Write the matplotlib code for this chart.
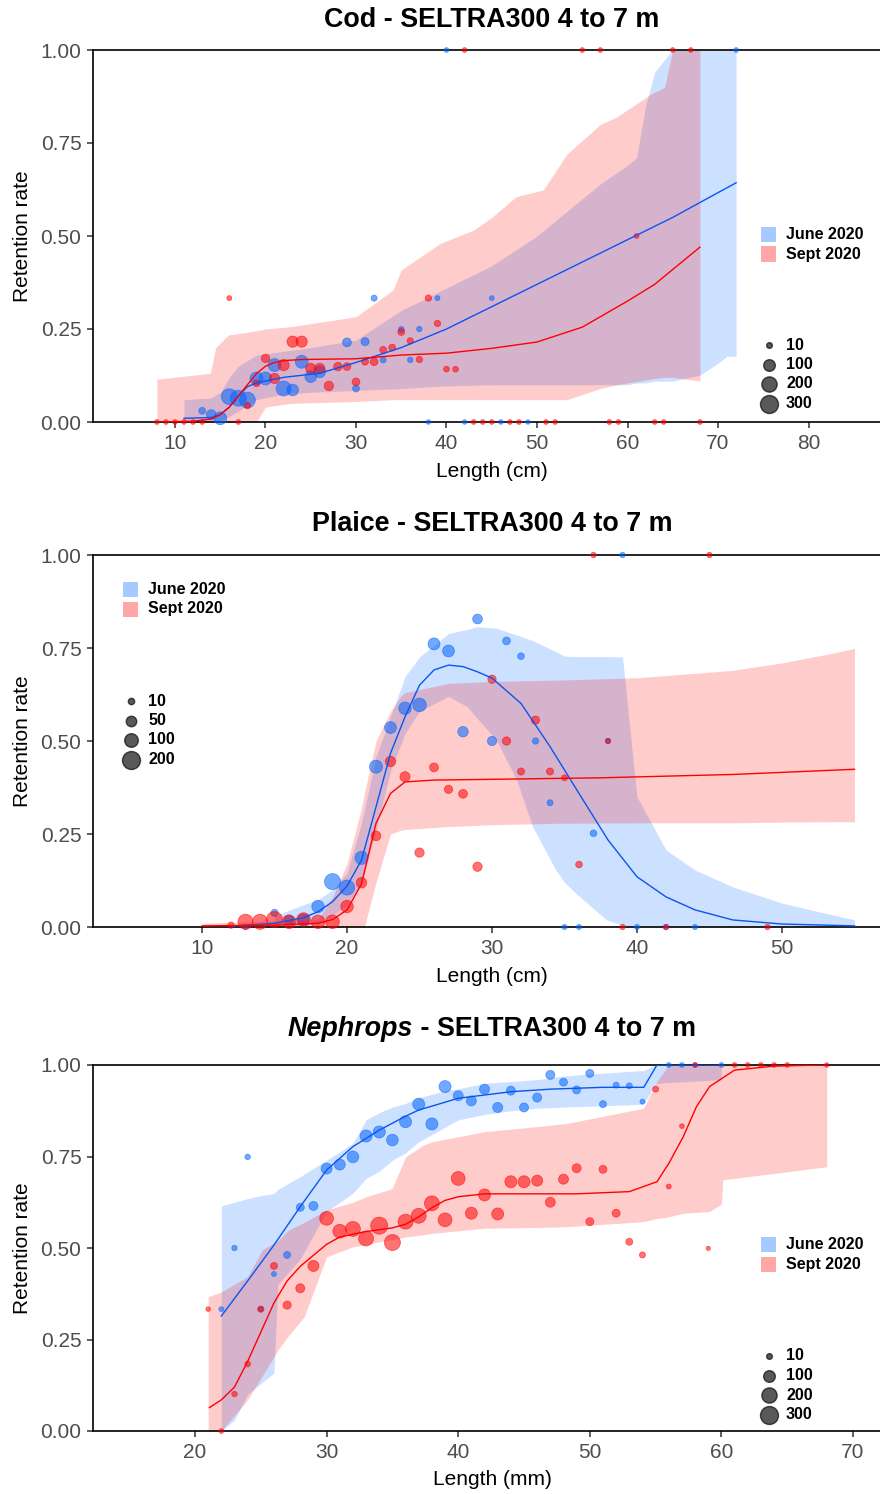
import numpy as np
import matplotlib
matplotlib.use("Agg")
import matplotlib.pyplot as plt
from matplotlib.patches import Rectangle

plt.rcParams['font.family'] = ['Liberation Sans', 'DejaVu Sans']

# ---------------- Cod (cm) ----------------
cod_jun_len = [13,14,15,16,17,18,19,20,21,22,23,24,25,26,29,30,31,32,33,35,36,37,39,45,40,72,38,42,46,49]
cod_jun_rate = [0.03,0.02,0.01,0.068,0.064,0.059,0.117,0.117,0.153,0.09,0.086,0.162,0.122,0.135,0.214,0.09,0.216,0.333,0.167,0.249,0.167,0.25,0.333,0.333,1,1,0,0,0,0]
cod_jun_n = [20,60,130,220,220,220,130,130,130,190,100,130,100,100,45,20,35,12,12,10,8,8,5,5,4,4,3,3,3,3]

cod_sep_len = [8,9,10,11,12,13,16,17,18,19,20,21,22,23,24,25,26,27,28,29,30,31,32,33,34,35,36,37,38,39,40,41,61,42,55,57,65,67,43,44,45,47,48,51,52,58,59,63,64,68]
cod_sep_rate = [0,0,0,0,0,0,0.333,0,0.044,0.104,0.171,0.117,0.153,0.216,0.216,0.144,0.144,0.097,0.149,0.149,0.108,0.162,0.162,0.194,0.2,0.242,0.218,0.168,0.333,0.265,0.142,0.142,0.5,1,1,1,1,1,0,0,0,0,0,0,0,0,0,0,0,0]
cod_sep_n = [4,4,4,4,4,4,5,4,15,20,40,70,90,90,90,70,70,55,40,30,30,20,30,20,20,20,15,15,15,15,10,10,5,4,4,4,4,4,4,4,4,4,4,4,4,5,4,4,4,4]

cod_jun_fit_x = [11,14,15,16,17,18,19,20,22,26,30,35,40,45,50,55,60,65,68,72]
cod_jun_fit_y = [0.01,0.012,0.02,0.04,0.07,0.095,0.105,0.11,0.12,0.131,0.16,0.20,0.25,0.31,0.37,0.43,0.49,0.55,0.59,0.643]
cod_sep_fit_x = [8,12,14,15,16,17,18,19,20,21,22,24,30,35,40,45,50,55,60,63,66,68]
cod_sep_fit_y = [0.0,0.002,0.008,0.02,0.04,0.07,0.10,0.13,0.15,0.16,0.165,0.168,0.17,0.18,0.185,0.198,0.215,0.255,0.325,0.37,0.43,0.47]

cod_jun_ci_x = [11,14,15,16,17,19,22,25,30,35,40,45,50,57,60,61,62,63,64.3,65,68,70,71,72]
cod_jun_ci_lo = [0,0,0.005,0.015,0.03,0.06,0.075,0.08,0.085,0.09,0.097,0.10,0.10,0.10,0.10,0.105,0.105,0.11,0.11,0.11,0.126,0.158,0.177,0.177]
cod_jun_ci_hi = [0.06,0.065,0.08,0.12,0.15,0.18,0.19,0.20,0.22,0.30,0.36,0.42,0.50,0.64,0.69,0.71,0.85,0.94,0.98,1.0,1.0,1.0,1.0,1.0]
cod_sep_ci_x = [8,13.9,14.5,15.9,19,20,22.7,30,34.1,35,39.3,43,45,47.7,50.7,53.3,57,58.8,62.5,64.1,65,68]
cod_sep_ci_lo = [0,0,0,0,0,0.04,0.05,0.055,0.06,0.06,0.06,0.06,0.06,0.06,0.06,0.06,0.09,0.10,0.115,0.12,0.12,0.11]
cod_sep_ci_hi = [0.115,0.131,0.2,0.234,0.245,0.25,0.256,0.283,0.355,0.409,0.48,0.516,0.55,0.606,0.624,0.72,0.80,0.82,0.88,0.90,1.0,1.0]

# ---------------- Plaice (cm) ----------------
pl_jun_len = [13,15,16,17,18,19,20,21,22,23,24,25,26,27,28,29,30,31,32,33,34,37,38,39,35,36,40,42,44]
pl_jun_rate = [0,0.038,0.019,0.02,0.055,0.122,0.106,0.186,0.431,0.536,0.588,0.597,0.761,0.742,0.525,0.828,0.5,0.769,0.728,0.5,0.334,0.252,0.5,1,0,0,0,0,0]
pl_jun_n = [4,15,40,60,80,150,130,90,90,70,80,100,70,70,50,40,35,20,12,10,8,12,4,5,4,4,4,4,4]

pl_sep_len = [12,13,14,15,16,17,18,19,20,21,22,23,24,25,26,27,28,29,30,31,32,33,34,35,36,37,38,45,39,42,49]
pl_sep_rate = [0.005,0.014,0.014,0.02,0.014,0.02,0.014,0.014,0.055,0.119,0.245,0.445,0.404,0.2,0.429,0.37,0.358,0.162,0.666,0.5,0.418,0.556,0.418,0.401,0.168,1,0.5,1,0,0,0]
pl_sep_n = [10,130,130,150,100,100,100,100,80,50,40,50,45,35,30,25,30,35,25,25,15,25,15,8,12,5,5,5,5,5,5]

pl_jun_fit_x = [12,15,17,18,19,20,21,22,23,24,25,26,27,28,29,30,32,34,36,38,40,42,44,46.6,50,55]
pl_jun_fit_y = [0.002,0.01,0.025,0.041,0.068,0.11,0.18,0.323,0.467,0.565,0.65,0.691,0.704,0.70,0.686,0.669,0.601,0.485,0.359,0.234,0.135,0.081,0.046,0.019,0.008,0.003]
pl_sep_fit_x = [10,15,18,19,20,21,22,23,24,26,30,37.4,46.6,55]
pl_sep_fit_y = [0.003,0.005,0.01,0.02,0.046,0.116,0.279,0.359,0.39,0.395,0.397,0.401,0.41,0.424]

pl_jun_ci_x = [15,17,18,19,20,21,22,23,24,25,27,28.3,29,30.3,31.7,32.8,34.4,35,35.8,37.9,39,39.7,40,42,44,46.6,50,55]
pl_jun_ci_hi = [0.03,0.06,0.073,0.10,0.144,0.28,0.458,0.565,0.673,0.726,0.789,0.80,0.807,0.803,0.785,0.77,0.74,0.728,0.727,0.727,0.726,0.46,0.35,0.207,0.153,0.108,0.064,0.019]
pl_jun_ci_lo = [0,0.005,0.01,0.03,0.06,0.12,0.26,0.42,0.52,0.58,0.62,0.592,0.56,0.503,0.395,0.27,0.153,0.12,0.09,0.019,0.005,0,0,0,0,0,0,0]
pl_sep_ci_x = [10,18,19,20,21,21.2,22,23,23.7,24,27,30,34.8,40,44,46.6,50,53.5,55]
pl_sep_ci_hi = [0.01,0.02,0.08,0.17,0.32,0.36,0.50,0.58,0.62,0.63,0.655,0.66,0.664,0.67,0.682,0.69,0.71,0.736,0.749]
pl_sep_ci_lo = [0,0,0,0,0,0,0.12,0.25,0.26,0.262,0.27,0.275,0.279,0.28,0.28,0.28,0.282,0.283,0.283]

# ---------------- Nephrops (mm) ----------------
nep_jun_len = [22,23,24,25,26,27,28,29,30,31,32,33,34,35,36,37,38,39,40,41,42,43,44,45,46,47,48,49,50,51,52,53,54,56,57,58,60]
nep_jun_rate = [0.333,0.5,0.749,0.333,0.429,0.481,0.611,0.615,0.717,0.728,0.749,0.806,0.817,0.795,0.845,0.893,0.839,0.941,0.916,0.902,0.934,0.884,0.93,0.884,0.911,0.973,0.953,0.932,0.977,0.893,0.945,0.943,0.9,1,1,1,1]
nep_jun_n = [5,8,8,5,5,21,33,48,85,85,100,110,110,100,108,108,108,108,65,65,65,65,48,48,48,48,33,33,33,21,12,12,5,4,4,4,4]

nep_sep_len = [21,22,23,24,25,26,27,28,29,30,31,32,33,34,35,36,37,38,39,40,41,42,43,44,45,46,47,48,49,50,51,52,53,54,55,56,57,59,58,61,62,63,64,65,68]
nep_sep_rate = [0.333,0,0.101,0.183,0.333,0.451,0.344,0.39,0.451,0.581,0.546,0.552,0.526,0.561,0.515,0.572,0.588,0.622,0.577,0.69,0.595,0.645,0.593,0.681,0.681,0.684,0.625,0.688,0.718,0.572,0.715,0.595,0.517,0.481,0.934,0.668,0.833,0.499,1,1,1,1,1,1,1]
nep_sep_n = [3,4,8,10,15,21,35,48,85,155,155,190,190,265,225,190,190,190,155,155,108,108,108,108,108,85,65,65,48,33,33,33,21,12,12,5,4,2,4,4,4,4,4,4,3]

nep_jun_fit_x = [22,24,26,28,30,32,34,36,37,40,42,44,47,51,54.1,55.1,60]
nep_jun_fit_y = [0.314,0.41,0.508,0.613,0.713,0.777,0.822,0.86,0.877,0.909,0.918,0.927,0.934,0.939,0.939,1.0,1.0]
nep_sep_fit_x = [21.1,22,23,24,25,26,27,28,29,30,31,33,35,36,37,38,39,40,42,49,53,55.1,56,57.1,58.1,59.1,61,64,68]
nep_sep_fit_y = [0.064,0.085,0.12,0.19,0.27,0.35,0.41,0.45,0.48,0.51,0.53,0.545,0.555,0.565,0.585,0.61,0.63,0.64,0.648,0.648,0.654,0.681,0.731,0.804,0.886,0.941,0.986,0.997,1.0]

nep_jun_ci_x = [22,23,24,25,26,26.3,28,30,32,33,34,35,36,37,39,40,42,44,46,48,52,54.1,55,60]
nep_jun_ci_hi = [0.615,0.625,0.635,0.643,0.649,0.66,0.695,0.74,0.786,0.85,0.87,0.885,0.895,0.91,0.93,0.935,0.95,0.955,0.96,0.97,0.98,0.985,1.0,1.0]
nep_jun_ci_lo = [0.0,0.03,0.10,0.13,0.158,0.40,0.47,0.60,0.65,0.69,0.71,0.74,0.76,0.79,0.83,0.85,0.865,0.875,0.882,0.885,0.89,0.893,0.95,0.96]
nep_sep_ci_x = [21,22,24,25.1,26.3,27.1,28.3,30,32,33,34.8,35,36,37.3,38,42,45.8,48.2,54.1,55,56,57.1,59.1,60,60.1,68]
nep_sep_ci_hi = [0.367,0.38,0.422,0.495,0.52,0.549,0.57,0.604,0.625,0.64,0.66,0.664,0.749,0.78,0.79,0.818,0.831,0.84,0.882,0.95,1,1,1,1,1,1]
nep_sep_ci_lo = [0,0,0.085,0.15,0.221,0.26,0.312,0.476,0.503,0.51,0.522,0.523,0.53,0.536,0.54,0.554,0.556,0.558,0.572,0.58,0.585,0.595,0.60,0.62,0.686,0.722]

cod_size_keys = [10, 100, 200, 300]
pl_size_keys = [10, 50, 100, 200]
nep_size_keys = [10, 100, 200, 300]

BLUE = "#0064ff"
RED = "#ff0000"
BLUE_LINE = "#0a55f0"
KEY_B = "#a6c9ff"
KEY_R = "#ffa6a6"

W, H = 880, 1494
fig = plt.figure(figsize=(W / 100, H / 100), dpi=100)


def fx(px):
    return px / W


def fy(py):
    return 1 - py / H


def dot(n, nmax):
    # marker diameter in px, area-ish scaling like ggplot's scale_size
    d = 3 + 15 * np.sqrt(np.asarray(n, dtype=float) / nmax)
    return (d * 0.72) ** 2


def panel(top, bot, xlim, xticks, xlabel, jun, sep, nmax):
    ax = fig.add_axes([fx(93), fy(bot), 1 - fx(93), (bot - top) / H])
    (jx, jy, jn, jfx, jfy, jcx, jlo, jhi) = jun
    (sx, sy, sn, sfx, sfy, scx, slo, shi) = sep
    ax.fill_between(jcx, jlo, jhi, color=BLUE, alpha=0.2, lw=0)
    ax.fill_between(scx, slo, shi, color=RED, alpha=0.2, lw=0)
    ax.scatter(jx, jy, s=dot(jn, nmax), color=BLUE, alpha=0.55, lw=0.6, clip_on=False, zorder=3)
    ax.scatter(sx, sy, s=dot(sn, nmax), color=RED, alpha=0.55, lw=0.6, clip_on=False, zorder=3)
    ax.plot(jfx, jfy, color=BLUE_LINE, lw=1.0, zorder=4)
    ax.plot(sfx, sfy, color=RED, lw=1.0, zorder=4)
    ax.set_xlim(*xlim)
    ax.set_ylim(0, 1)
    ax.set_xticks(xticks)
    ax.set_yticks([0, 0.25, 0.5, 0.75, 1.0])
    ax.set_yticklabels(["0.00", "0.25", "0.50", "0.75", "1.00"])
    ax.spines['right'].set_visible(False)
    for s in ['left', 'bottom', 'top']:
        ax.spines[s].set_linewidth(1.2)
        ax.spines[s].set_color('black')
    ax.tick_params(length=4.3, width=1.1, color='#333333', labelcolor='#4d4d4d',
                   labelsize=15, pad=4)
    ax.set_xlabel(xlabel, fontsize=15)
    ax.set_ylabel("Retention rate", fontsize=15)
    ax.xaxis.set_label_coords(0.507, -0.107)
    ax.yaxis.set_label_coords(-0.078, 0.5)
    return ax


def legends(kx, ky, cy, labels, nmax):
    for i, (c, lab) in enumerate([(KEY_B, "June 2020"), (KEY_R, "Sept 2020")]):
        y0 = ky + 19.5 * i
        fig.add_artist(Rectangle((fx(kx), fy(y0 + 15)), 15 / W, 15 / H,
                                 transform=fig.transFigure, color=c, lw=0))
        fig.text(fx(kx + 25), fy(y0 + 7.5), lab, fontsize=11.5, fontweight='bold',
                 va='center', ha='left')
    for i, n in enumerate(labels):
        yy = cy + 19.5 * i
        fig.add_artist(plt.Line2D([fx(kx + 7.5)], [fy(yy)], marker='o', ls='',
                                  markersize=(3 + 15 * np.sqrt(n / nmax)) * 0.72,
                                  color='black', alpha=0.65, transform=fig.transFigure))
        fig.text(fx(kx + 25), fy(yy), str(n), fontsize=11.5, fontweight='bold',
                 va='center', ha='left')


ax1 = panel(50, 422, (0.94, 87.9), [10, 20, 30, 40, 50, 60, 70, 80], "Length (cm)",
            (cod_jun_len, cod_jun_rate, cod_jun_n, cod_jun_fit_x, cod_jun_fit_y,
             cod_jun_ci_x, cod_jun_ci_lo, cod_jun_ci_hi),
            (cod_sep_len, cod_sep_rate, cod_sep_n, cod_sep_fit_x, cod_sep_fit_y,
             cod_sep_ci_x, cod_sep_ci_lo, cod_sep_ci_hi), 300)
ax2 = panel(555, 927, (2.48, 56.76), [10, 20, 30, 40, 50], "Length (cm)",
            (pl_jun_len, pl_jun_rate, pl_jun_n, pl_jun_fit_x, pl_jun_fit_y,
             pl_jun_ci_x, pl_jun_ci_lo, pl_jun_ci_hi),
            (pl_sep_len, pl_sep_rate, pl_sep_n, pl_sep_fit_x, pl_sep_fit_y,
             pl_sep_ci_x, pl_sep_ci_lo, pl_sep_ci_hi), 200)
ax3 = panel(1065, 1431, (12.25, 72.05), [20, 30, 40, 50, 60, 70], "Length (mm)",
            (nep_jun_len, nep_jun_rate, nep_jun_n, nep_jun_fit_x, nep_jun_fit_y,
             nep_jun_ci_x, nep_jun_ci_lo, nep_jun_ci_hi),
            (nep_sep_len, nep_sep_rate, nep_sep_n, nep_sep_fit_x, nep_sep_fit_y,
             nep_sep_ci_x, nep_sep_ci_lo, nep_sep_ci_hi), 300)

legends(761, 227, 345, cod_size_keys, 300)
legends(123, 582, 701, pl_size_keys, 200)
legends(761, 1237, 1356, nep_size_keys, 300)

TS = 19.4
fig.text(fx(492), fy(20), "Cod - SELTRA300 4 to 7 m", fontsize=TS, fontweight='bold',
         ha='center', va='center')
fig.text(fx(492), fy(524), "Plaice - SELTRA300 4 to 7 m", fontsize=TS, fontweight='bold',
         ha='center', va='center')

# italic species name followed by the rest of the title, centred together
t1 = fig.text(0, fy(1029), "Nephrops", fontsize=TS, fontweight='bold', fontstyle='italic',
              ha='left', va='center')
t2 = fig.text(0, fy(1029), " - SELTRA300 4 to 7 m", fontsize=TS, fontweight='bold',
              ha='left', va='center')
r = fig.canvas.get_renderer()
w1 = t1.get_window_extent(r).width
w2 = t2.get_window_extent(r).width
x0 = 492 - (w1 + w2) / 2
t1.set_x(fx(x0))
t2.set_x(fx(x0 + w1))

fig.savefig("out.png", dpi=100)
